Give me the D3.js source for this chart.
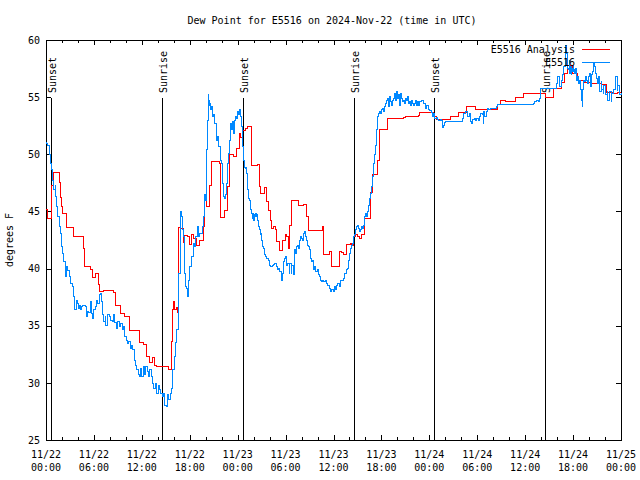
<!DOCTYPE html>
<html><head><meta charset="utf-8">
<script src="https://cdn.jsdelivr.net/npm/d3@7/dist/d3.min.js"></script>
<style>
body{margin:0;background:#fff}
svg text{font-family:"DejaVu Sans Mono",monospace;font-size:10px;fill:#000}
</style></head><body>
<script>
// ---- data (hours since 2024-11-22 00:00 UTC, degrees F) ----
const titleText = "Dew Point for E5516 on 2024-Nov-22 (time in UTC)";
const yTicks = [25,30,35,40,45,50,55,60];
const sunHours = [0.63,14.53,24.67,38.57,48.59,62.48];
const sunLabels = ["Sunset","Sunrise","Sunset","Sunrise","Sunset","Sunrise"];
const seriesNames = ["E5516 Analysis","E5516"];
const seriesColors = ["#ff0000","#0088ff"];

const analysis = [[0,45.2],[0.25,44.4],[0.67,47.3],[0.92,48.4],[1.63,47.5],[1.84,46.2],[1.92,45.4],[2.09,44.8],[2.59,43.6],[3.42,42.8],[4.67,41.8],[4.84,40.2],[5.59,39.9],[5.84,39.2],[6.22,39.6],[6.55,38.6],[6.76,38.0],[7.18,38.1],[8.51,37.9],[8.72,36.8],[9.27,36.1],[9.77,35.8],[10.5,34.6],[11.77,33.5],[12.27,33.4],[12.6,32.3],[12.9,31.8],[13.31,32.2],[13.6,31.5],[13.86,31.4],[15.28,31.2],[15.74,33.6],[15.83,36.4],[15.95,37.1],[16.15,36.4],[16.3,36.6],[16.45,36.2],[16.6,43.6],[16.78,43.5],[17.2,42.3],[17.4,42.9],[17.7,42.8],[18.03,42.1],[18.24,43.0],[18.45,42.6],[18.87,42.0],[19.28,42.5],[19.7,43.7],[19.9,46.4],[20.1,45.4],[20.5,47.3],[20.75,49.35],[21.7,49.2],[21.87,44.5],[22.4,45.1],[22.7,47.2],[22.95,50.0],[23.45,49.8],[23.88,50.55],[24.17,51.85],[24.38,51.5],[24.63,52.1],[24.92,52.3],[25.2,52.4],[25.76,49.05],[26.46,49.1],[26.71,47.2],[26.92,46.6],[27.42,47.1],[27.63,45.85],[27.84,45.1],[28.05,44.2],[28.26,43.5],[28.46,43.7],[28.68,43.4],[28.88,42.35],[29.3,41.6],[29.64,42.5],[29.93,43.0],[30.14,42.8],[30.34,41.8],[30.55,43.8],[30.77,46.0],[31.6,45.5],[32.22,45.65],[32.64,44.55],[32.85,43.3],[34.6,43.7],[34.73,41.2],[35.5,41.5],[35.77,40.2],[36.8,41.5],[37.0,41.4],[37.3,41.2],[37.65,42.1],[38.1,42.2],[38.3,42.0],[38.48,42.8],[38.7,43.0],[39.0,42.8],[39.23,42.6],[39.53,43.0],[39.82,44.4],[40.66,46.7],[40.9,48.2],[41.49,49.5],[41.74,52.2],[42.74,53.1],[44.74,53.2],[45.0,53.3],[46.62,53.4],[46.83,53.64],[48.5,53.3],[48.84,53.06],[50.59,53.35],[51.63,53.7],[52.68,54.2],[53.72,53.9],[56.51,54.4],[56.85,54.75],[57.48,54.6],[58.73,55.0],[59.77,55.33],[62.57,55.0],[63.6,55.8],[64.5,56.3],[64.9,57.1],[65.3,57.8],[65.95,57.1],[66.6,56.5],[67.4,56.3],[68.25,56.2],[69.5,56.1],[70.2,55.45],[71.0,55.3],[71.6,55.4],[72,55.4]];

const observed = [[0.0,51.0],[0.08,50.96],[0.25,50.81],[0.38,50.08],[0.5,50.02],[0.58,49.21],[0.67,48.63],[0.79,47.75],[0.92,47.46],[1.0,46.88],[1.13,47.31],[1.21,46.29],[1.34,45.42],[1.5,44.54],[1.63,44.25],[1.75,43.67],[1.84,43.08],[1.92,41.92],[2.05,41.33],[2.17,41.19],[2.25,40.6],[2.38,40.17],[2.46,39.29],[2.59,40.17],[2.75,39.87],[2.88,39.29],[3.09,38.71],[3.3,38.42],[3.42,37.54],[3.51,36.52],[3.63,36.38],[3.76,37.25],[3.92,36.96],[4.05,36.52],[4.17,36.81],[4.34,36.38],[4.47,36.67],[4.59,36.73],[4.76,36.73],[4.97,36.67],[5.09,35.79],[5.18,36.23],[5.38,36.14],[5.51,37.1],[5.68,36.08],[5.84,35.65],[6.01,36.38],[6.18,36.67],[6.34,37.25],[6.51,36.96],[6.68,37.69],[6.85,37.83],[7.01,37.1],[7.1,35.94],[7.26,35.36],[7.39,35.79],[7.51,35.06],[7.68,35.94],[7.89,35.79],[8.1,35.5],[8.31,35.36],[8.43,35.94],[8.6,35.27],[8.77,34.77],[8.93,35.36],[9.18,34.92],[9.35,35.21],[9.56,34.63],[9.68,34.92],[9.85,34.04],[10.02,33.75],[10.18,33.46],[10.35,33.61],[10.52,33.02],[10.69,33.31],[10.85,32.88],[11.02,32.0],[11.19,31.56],[11.35,31.19],[11.52,30.69],[11.69,30.54],[11.85,31.27],[12.02,30.54],[12.19,31.42],[12.36,30.69],[12.52,31.42],[12.69,30.98],[12.86,30.54],[13.02,31.13],[13.19,30.54],[13.36,29.96],[13.52,29.52],[13.69,29.96],[13.86,29.08],[14.03,29.73],[14.19,29.38],[14.36,29.08],[14.53,28.79],[14.69,29.08],[14.86,28.06],[15.03,27.92],[15.19,28.94],[15.36,28.56],[15.53,29.08],[15.69,29.52],[15.82,31.13],[16.03,32.29],[16.2,33.5],[16.36,34.63],[16.53,37.0],[16.61,39.58],[16.78,44.83],[16.86,44.98],[16.95,44.54],[17.03,43.38],[17.2,42.79],[17.32,39.58],[17.45,38.42],[17.61,38.27],[17.74,37.54],[17.86,39.0],[18.03,40.17],[18.16,40.75],[18.28,41.04],[18.45,42.21],[18.62,41.92],[18.78,42.79],[18.95,43.67],[19.12,42.79],[19.28,43.08],[19.45,43.08],[19.58,43.67],[19.7,44.54],[19.79,45.71],[19.87,46.44],[19.95,46.0],[20.04,48.04],[20.12,50.38],[20.2,53.0],[20.29,55.19],[20.37,54.75],[20.45,54.31],[20.54,54.46],[20.62,53.88],[20.7,54.17],[20.79,53.29],[20.95,53.44],[21.12,52.71],[21.29,51.25],[21.46,51.54],[21.62,50.67],[21.79,49.5],[21.96,49.21],[22.12,47.46],[22.2,46.29],[22.33,46.15],[22.46,46.44],[22.62,47.46],[22.75,49.21],[22.87,50.08],[23.0,51.25],[23.12,52.71],[23.25,52.13],[23.37,52.85],[23.46,51.83],[23.58,53.0],[23.71,53.29],[23.83,53.15],[23.96,53.73],[24.08,53.44],[24.21,53.88],[24.38,53.29],[24.46,52.42],[24.55,51.4],[24.63,50.67],[24.71,49.65],[24.79,49.5],[24.88,48.86],[24.96,48.77],[25.05,48.86],[25.13,48.33],[25.21,47.75],[25.29,46.88],[25.38,46.15],[25.46,46.0],[25.55,45.13],[25.71,44.83],[25.8,44.4],[25.88,44.83],[25.96,44.25],[26.05,44.69],[26.13,44.54],[26.21,44.83],[26.3,44.54],[26.38,44.69],[26.46,44.25],[26.55,43.67],[26.71,43.38],[26.8,42.94],[26.88,43.08],[26.96,42.5],[27.13,41.92],[27.21,41.77],[27.3,41.19],[27.47,41.04],[27.63,40.9],[27.8,40.75],[27.97,40.31],[28.13,40.17],[28.3,40.31],[28.47,40.4],[28.63,40.46],[28.8,40.17],[28.97,39.88],[29.13,40.02],[29.3,39.73],[29.47,39.29],[29.55,39.0],[29.64,39.58],[29.72,40.6],[29.89,40.9],[30.05,41.04],[30.14,40.31],[30.3,40.46],[30.47,39.58],[30.55,40.46],[30.68,39.58],[30.8,40.31],[30.97,39.44],[31.1,41.63],[31.22,41.33],[31.35,41.92],[31.47,42.06],[31.6,41.77],[31.72,42.5],[31.85,42.79],[31.97,42.65],[32.1,42.5],[32.22,43.08],[32.35,43.23],[32.47,42.79],[32.6,42.5],[32.72,42.06],[32.85,41.92],[32.98,41.63],[33.1,40.9],[33.23,40.6],[33.35,40.75],[33.48,39.88],[33.6,40.17],[33.73,39.73],[33.85,39.73],[33.98,39.88],[34.1,39.44],[34.23,39.29],[34.35,39.0],[34.48,38.86],[34.64,39.0],[34.81,38.86],[34.98,39.0],[35.14,38.71],[35.31,38.56],[35.48,38.27],[35.6,37.98],[35.73,38.13],[35.85,38.13],[35.98,37.98],[36.1,38.42],[36.23,38.13],[36.4,38.56],[36.56,38.71],[36.73,38.42],[36.9,39.0],[37.07,39.0],[37.23,39.15],[37.4,39.58],[37.57,39.88],[37.73,40.02],[37.86,40.75],[37.98,41.33],[38.11,41.77],[38.23,42.06],[38.36,42.21],[38.48,42.79],[38.61,42.94],[38.73,43.38],[38.86,43.67],[38.98,43.81],[39.11,43.52],[39.24,43.23],[39.36,43.38],[39.49,43.67],[39.61,43.52],[39.74,43.81],[39.86,44.54],[39.99,44.83],[40.11,44.54],[40.24,44.98],[40.36,45.56],[40.49,46.15],[40.61,46.58],[40.74,47.17],[40.87,48.04],[40.99,49.21],[41.12,49.94],[41.24,50.81],[41.37,52.13],[41.49,53.29],[41.62,53.58],[41.74,53.73],[41.87,53.58],[41.99,53.88],[42.12,54.02],[42.25,53.73],[42.41,54.17],[42.54,54.46],[42.66,54.75],[42.79,54.9],[42.91,54.17],[43.04,55.04],[43.16,54.6],[43.29,54.31],[43.41,54.75],[43.54,54.9],[43.66,55.33],[43.79,54.75],[43.91,55.48],[44.04,54.9],[44.16,55.19],[44.29,54.31],[44.41,55.33],[44.54,54.9],[44.66,54.6],[44.79,54.75],[44.92,54.46],[45.04,54.9],[45.17,54.75],[45.29,55.04],[45.42,54.46],[45.54,54.6],[45.67,54.31],[45.79,54.75],[45.92,54.46],[46.04,54.31],[46.17,54.46],[46.29,54.75],[46.42,54.31],[46.54,54.6],[46.67,54.31],[46.83,54.6],[47.04,54.69],[47.25,54.46],[47.46,54.02],[47.67,54.23],[47.88,53.88],[48.08,53.82],[48.29,53.64],[48.42,53.29],[48.54,53.53],[48.67,53.15],[48.84,53.23],[49.0,53.06],[49.17,53.0],[49.34,53.06],[49.5,53.0],[49.63,52.36],[49.75,52.56],[49.88,52.77],[50.0,52.85],[50.17,52.83],[50.59,52.85],[51.0,52.85],[51.42,52.85],[52.05,52.85],[52.17,53.15],[52.34,53.58],[52.51,53.73],[52.68,53.73],[52.84,53.29],[53.01,53.58],[53.18,52.85],[53.3,52.71],[53.43,53.06],[53.6,53.15],[53.76,53.0],[53.93,53.15],[54.1,53.0],[54.26,53.29],[54.43,53.58],[54.6,53.44],[54.72,52.71],[54.8,53.73],[54.93,53.35],[55.1,53.73],[55.26,54.02],[55.43,53.88],[55.6,54.02],[56.0,54.02],[56.43,54.17],[56.56,54.4],[61.02,54.46],[61.23,54.6],[61.44,54.75],[61.65,54.6],[61.77,54.9],[61.94,55.77],[63.52,55.77],[63.94,56.21],[64.11,56.79],[64.28,56.35],[64.36,55.92],[64.53,56.5],[64.7,56.94],[64.86,57.67],[64.99,58.83],[65.07,59.56],[65.16,58.83],[65.24,58.25],[65.32,57.52],[65.41,57.38],[65.49,58.25],[65.57,57.08],[65.66,57.67],[65.74,56.94],[65.82,57.52],[65.91,57.23],[65.99,57.81],[66.07,57.38],[66.16,57.08],[66.28,57.52],[66.37,57.23],[66.45,56.5],[66.58,56.79],[66.7,56.21],[66.83,56.5],[66.95,55.63],[67.08,54.75],[67.16,54.17],[67.24,55.63],[67.33,56.5],[67.45,56.35],[67.58,56.79],[67.7,56.5],[67.83,56.21],[67.95,56.79],[68.08,57.08],[68.2,55.92],[68.33,56.94],[68.45,57.23],[68.54,57.96],[68.62,57.67],[68.75,57.08],[68.87,56.65],[69.0,56.21],[69.12,56.79],[69.25,55.92],[69.37,55.48],[69.5,56.35],[69.62,55.63],[69.75,55.33],[69.87,56.06],[70.0,55.63],[70.12,55.19],[70.25,55.48],[70.37,54.75],[70.5,55.19],[70.62,55.48],[70.75,54.6],[70.87,55.33],[71.0,55.48],[71.12,55.63],[71.25,56.2],[71.37,56.8],[71.5,55.6],[71.62,56.06],[71.75,55.48],[71.87,55.19],[72.0,55.33]];

// ---- drawing ----
const W=640,H=480,L=46,R=621,T=40,B=440;
const t0 = Date.UTC(2024,10,22,0,0);
const toDate = h => new Date(t0 + h*3600e3);
const x = d3.scaleUtc().domain([toDate(0),toDate(72)]).range([L,R]);
const y = d3.scaleLinear().domain([25,60]).range([B,T]);

const svg = d3.select("body").append("svg").attr("width",W).attr("height",H);

function styleAxis(g){
  g.select(".domain").remove();
  g.selectAll("line").attr("stroke","#000").attr("shape-rendering","crispEdges");
  g.attr("font-family",null).attr("font-size",null);
}
const major = d3.utcHour.every(6), minor = d3.utcHour.every(2);
svg.append("g").attr("transform",`translate(0,${B})`)
  .call(d3.axisBottom(x).ticks(minor).tickSize(-3).tickFormat("")).call(styleAxis);
svg.append("g").attr("transform",`translate(0,${B})`)
  .call(d3.axisBottom(x).ticks(major).tickSize(-5).tickFormat("")).call(styleAxis);
svg.append("g").attr("transform",`translate(0,${T})`)
  .call(d3.axisTop(x).ticks(minor).tickSize(-3).tickFormat("")).call(styleAxis);
svg.append("g").attr("transform",`translate(0,${T})`)
  .call(d3.axisTop(x).ticks(major).tickSize(-5).tickFormat("")).call(styleAxis);
svg.append("g").attr("transform",`translate(${L},0)`)
  .call(d3.axisLeft(y).tickValues(yTicks).tickSize(-5).tickPadding(6).tickFormat(d3.format("d"))).call(styleAxis);
svg.append("g").attr("transform",`translate(${R},0)`)
  .call(d3.axisRight(y).tickValues(yTicks).tickSize(-5).tickFormat("")).call(styleAxis);

const fd = d3.utcFormat("%m/%d"), ft = d3.utcFormat("%H:%M");
const xl = svg.append("g").selectAll("text").data(x.ticks(major)).join("text")
  .attr("text-anchor","middle");
xl.append("tspan").attr("x",d=>x(d)).attr("y",458).text(fd);
xl.append("tspan").attr("x",d=>x(d)).attr("y",471).text(ft);

const sun = svg.append("g");
sun.selectAll("line").data(sunHours).join("line")
  .attr("x1",d=>Math.round(x(toDate(d)))+0.5).attr("x2",d=>Math.round(x(toDate(d)))+0.5)
  .attr("y1",98).attr("y2",B).attr("stroke","#000").attr("stroke-width",1)
  .attr("shape-rendering","crispEdges");
sun.selectAll("text").data(sunHours).join("text")
  .attr("transform",d=>`translate(${Math.round(x(toDate(d)))+5},93) rotate(-90)`)
  .text((d,i)=>sunLabels[i]);

svg.append("rect").attr("x",L+0.5).attr("y",T+0.5).attr("width",R-L).attr("height",B-T)
  .attr("fill","none").attr("stroke","#000").attr("shape-rendering","crispEdges");

const line = d3.line().x(d=>x(toDate(d[0]))).y(d=>y(d[1])).curve(d3.curveStepAfter);
[analysis, observed].forEach((data,i)=>{
  svg.append("path").datum(data).attr("d",line).attr("fill","none")
    .attr("stroke",seriesColors[i]).attr("stroke-width",1)
    .attr("shape-rendering","crispEdges");
});

const leg = svg.append("g");
seriesNames.forEach((n,i)=>{
  const yy = 49 + i*13;
  leg.append("text").attr("x",575).attr("y",yy+4).attr("text-anchor","end").text(n);
  leg.append("line").attr("x1",582).attr("x2",610).attr("y1",yy+0.5).attr("y2",yy+0.5)
    .attr("stroke",seriesColors[i]).attr("stroke-width",1).attr("shape-rendering","crispEdges");
});

svg.append("text").attr("x",332).attr("y",24).attr("text-anchor","middle").text(titleText);
svg.append("text").attr("transform","translate(13,240) rotate(-90)").attr("text-anchor","middle").text("degrees F");
</script>
</body></html>
